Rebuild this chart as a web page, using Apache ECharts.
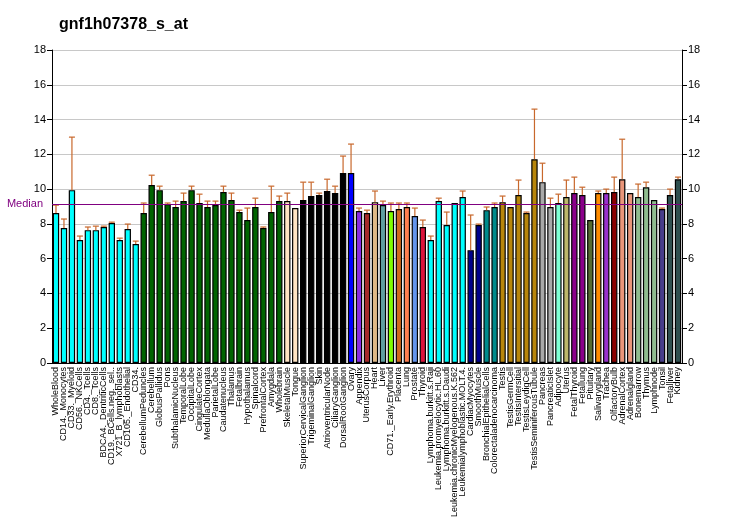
<!DOCTYPE html>
<html>
<head>
<meta charset="utf-8">
<script src="https://cdn.jsdelivr.net/npm/echarts@6/dist/echarts.min.js"></script>
<style>html,body{margin:0;padding:0;background:#fff}#c{width:732px;height:530px}</style>
</head>
<body>
<div id="c"></div>
<script>
const categories = ["WholeBlood","CD14._Monocytes","CD33._Myeloid","CD56._NKCells","CD4._Tcells","CD8._Tcells","BDCA4._DentriticCells","CD19._BCells.neg._sel..","X721_B_lymphoblasts","CD105._Endothelial","CD34.",
"CerebellumPeduncles","Cerebellum","GlobusPallidus","Pons","SubthalamicNucleus","TemporalLobe","OccipitalLobe","CingulateCortex","MedullaOblongata","ParietalLobe","Caudatenucleus","Thalamus","Fetalbrain","Hypothalamus","Spinalcord","PrefrontalCortex","Amygdala","Wholebrain",
"SkeletalMuscle","Tongue","SuperiorCervicalGanglion","TrigeminalGanglion","Skin","AtrioventricularNode","CiliaryGanglion","DorsalRootGanglion","Ovary","Appendix","UterusCorpus","Heart","Liver","CD71._Early.Erythroid","Placenta","Lung","Prostate","Thyroid",
"Lymphoma.burkitt.s.Raji","Leukemia.promyelocytic.HL.60","Lymphoma.burkitt.s.Daudi","Leukemia.chronicMyelogenous.K.562","Leukemialymphoblastic.MOLT.4.","CardiacMyocytes","SmoothMuscle","BronchialEpithelialCells","Colorectaladenocarcinoma",
"Testis","TestisGermCell","TestisIntersitial","TestisLeydigCell","TestisSeminiferousTubule","Pancreas","PancreaticIslet","Adipocyte","Uterus","FetalThyroid","Fetallung","Pituitary","Salivarygland","Trachea","OlfactoryBulb","AdrenalCortex","Adrenalgland","Bonemarrow","Thymus","Lymphnode","Tonsil","Fetalliver","Kidney"];

const values = [8.62,7.76,9.94,7.07,7.64,7.64,7.82,8.05,7.07,7.70,6.84,
8.62,10.23,9.94,9.14,8.97,9.31,9.94,9.20,8.97,
9.08,9.83,9.37,8.68,8.22,8.97,7.76,8.68,9.31,
9.31,8.91,
9.37,9.60,9.66,9.89,9.77,10.92,
10.92,8.74,8.62,
9.25,9.08,8.74,8.85,8.97,8.45,7.82,
7.07,9.31,7.93,9.20,9.54,
6.49,7.93,8.79,8.97,
9.25,8.97,9.66,8.62,11.72,
10.40,8.97,
9.20,9.54,9.77,9.66,8.22,9.77,9.77,9.83,10.57,9.77,9.54,10.11,9.37,8.85,9.66,10.57];

const errorTop = [9.08,8.28,12.99,7.30,7.82,7.87,7.87,8.10,7.18,7.99,7.01,
9.20,10.80,10.17,9.20,9.31,9.77,10.17,9.71,9.31,
9.31,10.17,9.77,8.79,8.91,9.48,7.82,10.17,9.60,
9.77,null,
10.40,10.40,9.77,10.57,10.17,11.90,
12.59,8.91,8.79,
9.89,9.31,9.20,9.20,9.20,8.91,8.22,
7.30,9.48,8.68,null,9.89,
8.51,7.99,8.97,9.20,
9.60,null,10.52,8.68,14.60,
11.49,9.48,
9.71,10.52,10.69,10.11,null,9.89,10.00,10.69,12.87,null,10.29,10.40,null,8.91,10.00,10.69];

const median = 9.14;
const yTicks = [0,2,4,6,8,10,12,14,16,18];

const barColors = [
"#00FFFF","#00FFFF","#00FFFF","#00FFFF","#00FFFF","#00FFFF","#00FFFF","#00FFFF","#00FFFF","#00FFFF","#00FFFF",
"#006400","#006400","#006400","#006400","#006400","#006400","#006400","#006400","#006400","#006400","#006400","#006400","#006400","#006400","#006400","#006400","#006400","#006400",
"#FFE4C4","#FFE4C4",
"#000000","#000000","#000000","#000000","#000000","#000000",
"#0000FF","#8A2BE2","#A52A2A","#DEB887","#5F9EA0","#7FFF00","#D2691E","#FF7F50","#6495ED","#DC143C",
"#00FFFF","#00FFFF","#00FFFF","#00FFFF","#00FFFF",
"#00008B","#00008B","#008B8B","#008B8B",
"#B8860B","#B8860B","#B8860B","#B8860B","#B8860B",
"#A9A9A9","#A9A9A9","#7FFFD4","#BDB76B","#8B008B","#8B008B","#556B2F","#FF8C00","#9932CC","#8B0000","#E9967A","#E9967A","#8FBC8F","#8FBC8F","#8FBC8F","#483D8B","#2F4F4F","#2F4F4F"];

const chart = echarts.init(document.getElementById('c'), null, {renderer: 'canvas'});
const font = 'Liberation Sans, Arial, sans-serif';
const yAxisCommon = {
  type: 'value', min: 0, max: 18, interval: 2,
  axisLine: {show: true, lineStyle: {color: '#000', width: 1}},
  axisTick: {show: true, length: 5, lineStyle: {color: '#000'}},
  axisLabel: {color: '#000', fontSize: 11, fontFamily: font, margin: 6},
};
chart.setOption({
  animation: false,
  backgroundColor: '#fff',
  title: {text: 'gnf1h07378_s_at', left: 54, top: 12,
    textStyle: {fontSize: 16, fontWeight: 'bold', fontFamily: font, color: '#000'}},
  grid: {left: 52, right: 50, top: 50, bottom: 167},
  xAxis: {
    type: 'category', data: categories,
    axisLine: {lineStyle: {color: '#000', width: 1}},
    axisTick: {alignWithLabel: true, length: 5, lineStyle: {color: '#000'}},
    axisLabel: {rotate: 90, interval: 0, fontSize: 9, fontFamily: font, color: '#000', margin: 4}
  },
  yAxis: [
    Object.assign({}, yAxisCommon, {position: 'left',
      splitLine: {show: true, lineStyle: {color: '#C8C8C8', width: 1}}}),
    Object.assign({}, yAxisCommon, {position: 'right', splitLine: {show: false}})
  ],
  series: [
    {
      type: 'bar', data: values.map((v, i) => ({value: v, itemStyle: {color: barColors[i]}})),
      barCategoryGap: '20%',
      itemStyle: {borderColor: '#000', borderWidth: 1.2},
      markLine: {
        silent: true, symbol: 'none',
        lineStyle: {color: '#800080', width: 1.2, type: 'solid'},
        label: {show: true, position: 'start', formatter: 'Median', color: '#800080', fontSize: 11, fontFamily: font, distance: 9},
        data: [{yAxis: median}]
      },
      z: 2
    },
    {
      type: 'custom', z: 3,
      data: errorTop.map((t, i) => [i, values[i], t]),
      renderItem: function (params, api) {
        const top = api.value(2);
        if (top === null || top === undefined || isNaN(top)) return null;
        const p0 = api.coord([api.value(0), api.value(1)]);
        const p1 = api.coord([api.value(0), top]);
        const st = {stroke: '#C8682C', lineWidth: 1.2};
        return {type: 'group', children: [
          {type: 'line', shape: {x1: p0[0], y1: p0[1], x2: p1[0], y2: p1[1]}, style: st},
          {type: 'line', shape: {x1: p1[0] - 3, y1: p1[1], x2: p1[0] + 3, y2: p1[1]}, style: st}
        ]};
      }
    }
  ]
});
</script>
</body>
</html>
